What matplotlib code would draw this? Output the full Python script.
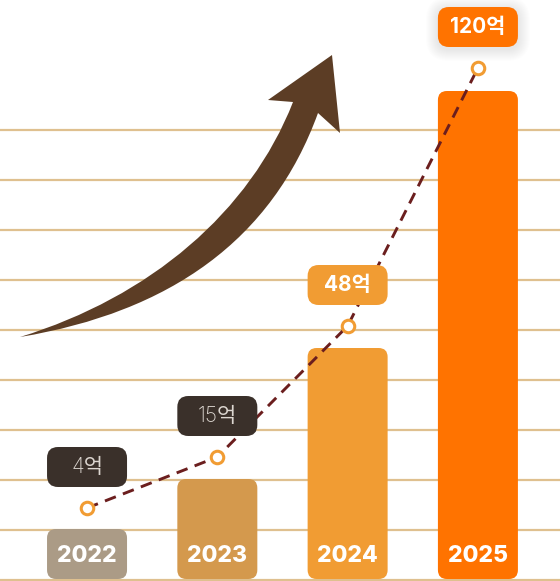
import matplotlib
matplotlib.use("Agg")
import matplotlib.pyplot as plt
from matplotlib.patches import FancyBboxPatch, PathPatch
from matplotlib.path import Path
from matplotlib.transforms import Affine2D

plt.rcParams["font.family"] = ["Inter", "Noto Sans CJK KR", "DejaVu Sans"]

years = ["2022", "2023", "2024", "2025"]
values = [4, 15, 48, 120]
value_labels = ["4억", "15억", "48억", "120억"]
bar_heights = [1.0, 2.0, 4.62, 9.76]
point_levels = [1.44, 2.46, 5.08, 10.24]
bar_colors = ["#ab9b86", "#d4994d", "#f19c33", "#ff7300"]
box_colors = ["#3a302a", "#3a302a", "#f19c33", "#ff7300"]
box_text_colors = ["#dcd6d0", "#dcd6d0", "white", "white"]
box_weights = ["light", "light", "bold", "bold"]
grid_levels = list(range(0, 10))

W, H = 560, 581
fig = plt.figure(figsize=(W / 100, H / 100), dpi=100)
ax = fig.add_axes([0, 0, 1, 1])
ax.set_xlim(-0.668, 3.630)
ax.set_ylim(-0.02, 11.6)
ax.axis("off")

# px per data unit, for rounding corners evenly
px_x = W / (3.630 + 0.668)
px_y = H / 11.62
aspect = px_x / px_y

for g in grid_levels:
    ax.axhline(g, color="#dfc08f", lw=1.6, zorder=0)

bw = 80 / px_x
for i, (h, c) in enumerate(zip(bar_heights, bar_colors)):
    r = 9 / px_x
    ax.add_patch(FancyBboxPatch((i - bw / 2, 0.02), bw, h,
                                boxstyle=f"round,pad=0,rounding_size={r}",
                                mutation_aspect=aspect, fc=c, ec="none", zorder=2))
    ax.text(i, 0.47, years[i], ha="center", va="center", color="white",
            fontsize=16.5, fontweight="heavy", zorder=3)

xs = list(range(len(years)))
ax.plot(xs, point_levels, color="#6b1e1e", lw=2.1, ls=(0, (4, 2.6)), zorder=4)
ax.plot(xs, point_levels, ls="none", marker="o", ms=9, mfc="white",
        mec="#f19c33", mew=2.2, zorder=5)

bh = 40 / px_y
for i, lab in enumerate(value_labels):
    yc = point_levels[i] + 0.82
    r = 11 / px_x
    if i == 3:
        for k in range(1, 13):
            ax.add_patch(FancyBboxPatch((i - bw / 2 - k / px_x, yc - bh / 2 - k / px_y - 2 / px_y),
                                        bw + 2 * k / px_x, bh + 2 * k / px_y,
                                        boxstyle=f"round,pad=0,rounding_size={r + k / px_x}",
                                        mutation_aspect=aspect, fc="black", ec="none",
                                        alpha=0.008, zorder=5.5))
    ax.add_patch(FancyBboxPatch((i - bw / 2, yc - bh / 2), bw, bh,
                                boxstyle=f"round,pad=0,rounding_size={r}",
                                mutation_aspect=aspect, fc=box_colors[i], ec="none", zorder=6))
    ax.text(i, yc, lab, ha="center", va="center", color=box_text_colors[i],
            fontsize=15, fontweight=box_weights[i], zorder=7)

# decorative growth arrow, drawn in pixel coordinates (origin top-left)
px = Affine2D().scale(1 / W, -1 / H).translate(0, 1) + fig.transFigure
verts = [(20, 337),
         (150, 297), (250, 212), (293, 102),
         (268, 100), (332, 55), (340, 133), (318, 113),
         (272, 240), (170, 312), (20, 337)]
codes = [Path.MOVETO,
         Path.CURVE4, Path.CURVE4, Path.CURVE4,
         Path.LINETO, Path.LINETO, Path.LINETO, Path.LINETO,
         Path.CURVE4, Path.CURVE4, Path.CURVE4]
ax.add_patch(PathPatch(Path(verts, codes), fc="#5c3d25", ec="none",
                       transform=px, zorder=3))

fig.savefig("out.png", dpi=100, facecolor="white")
